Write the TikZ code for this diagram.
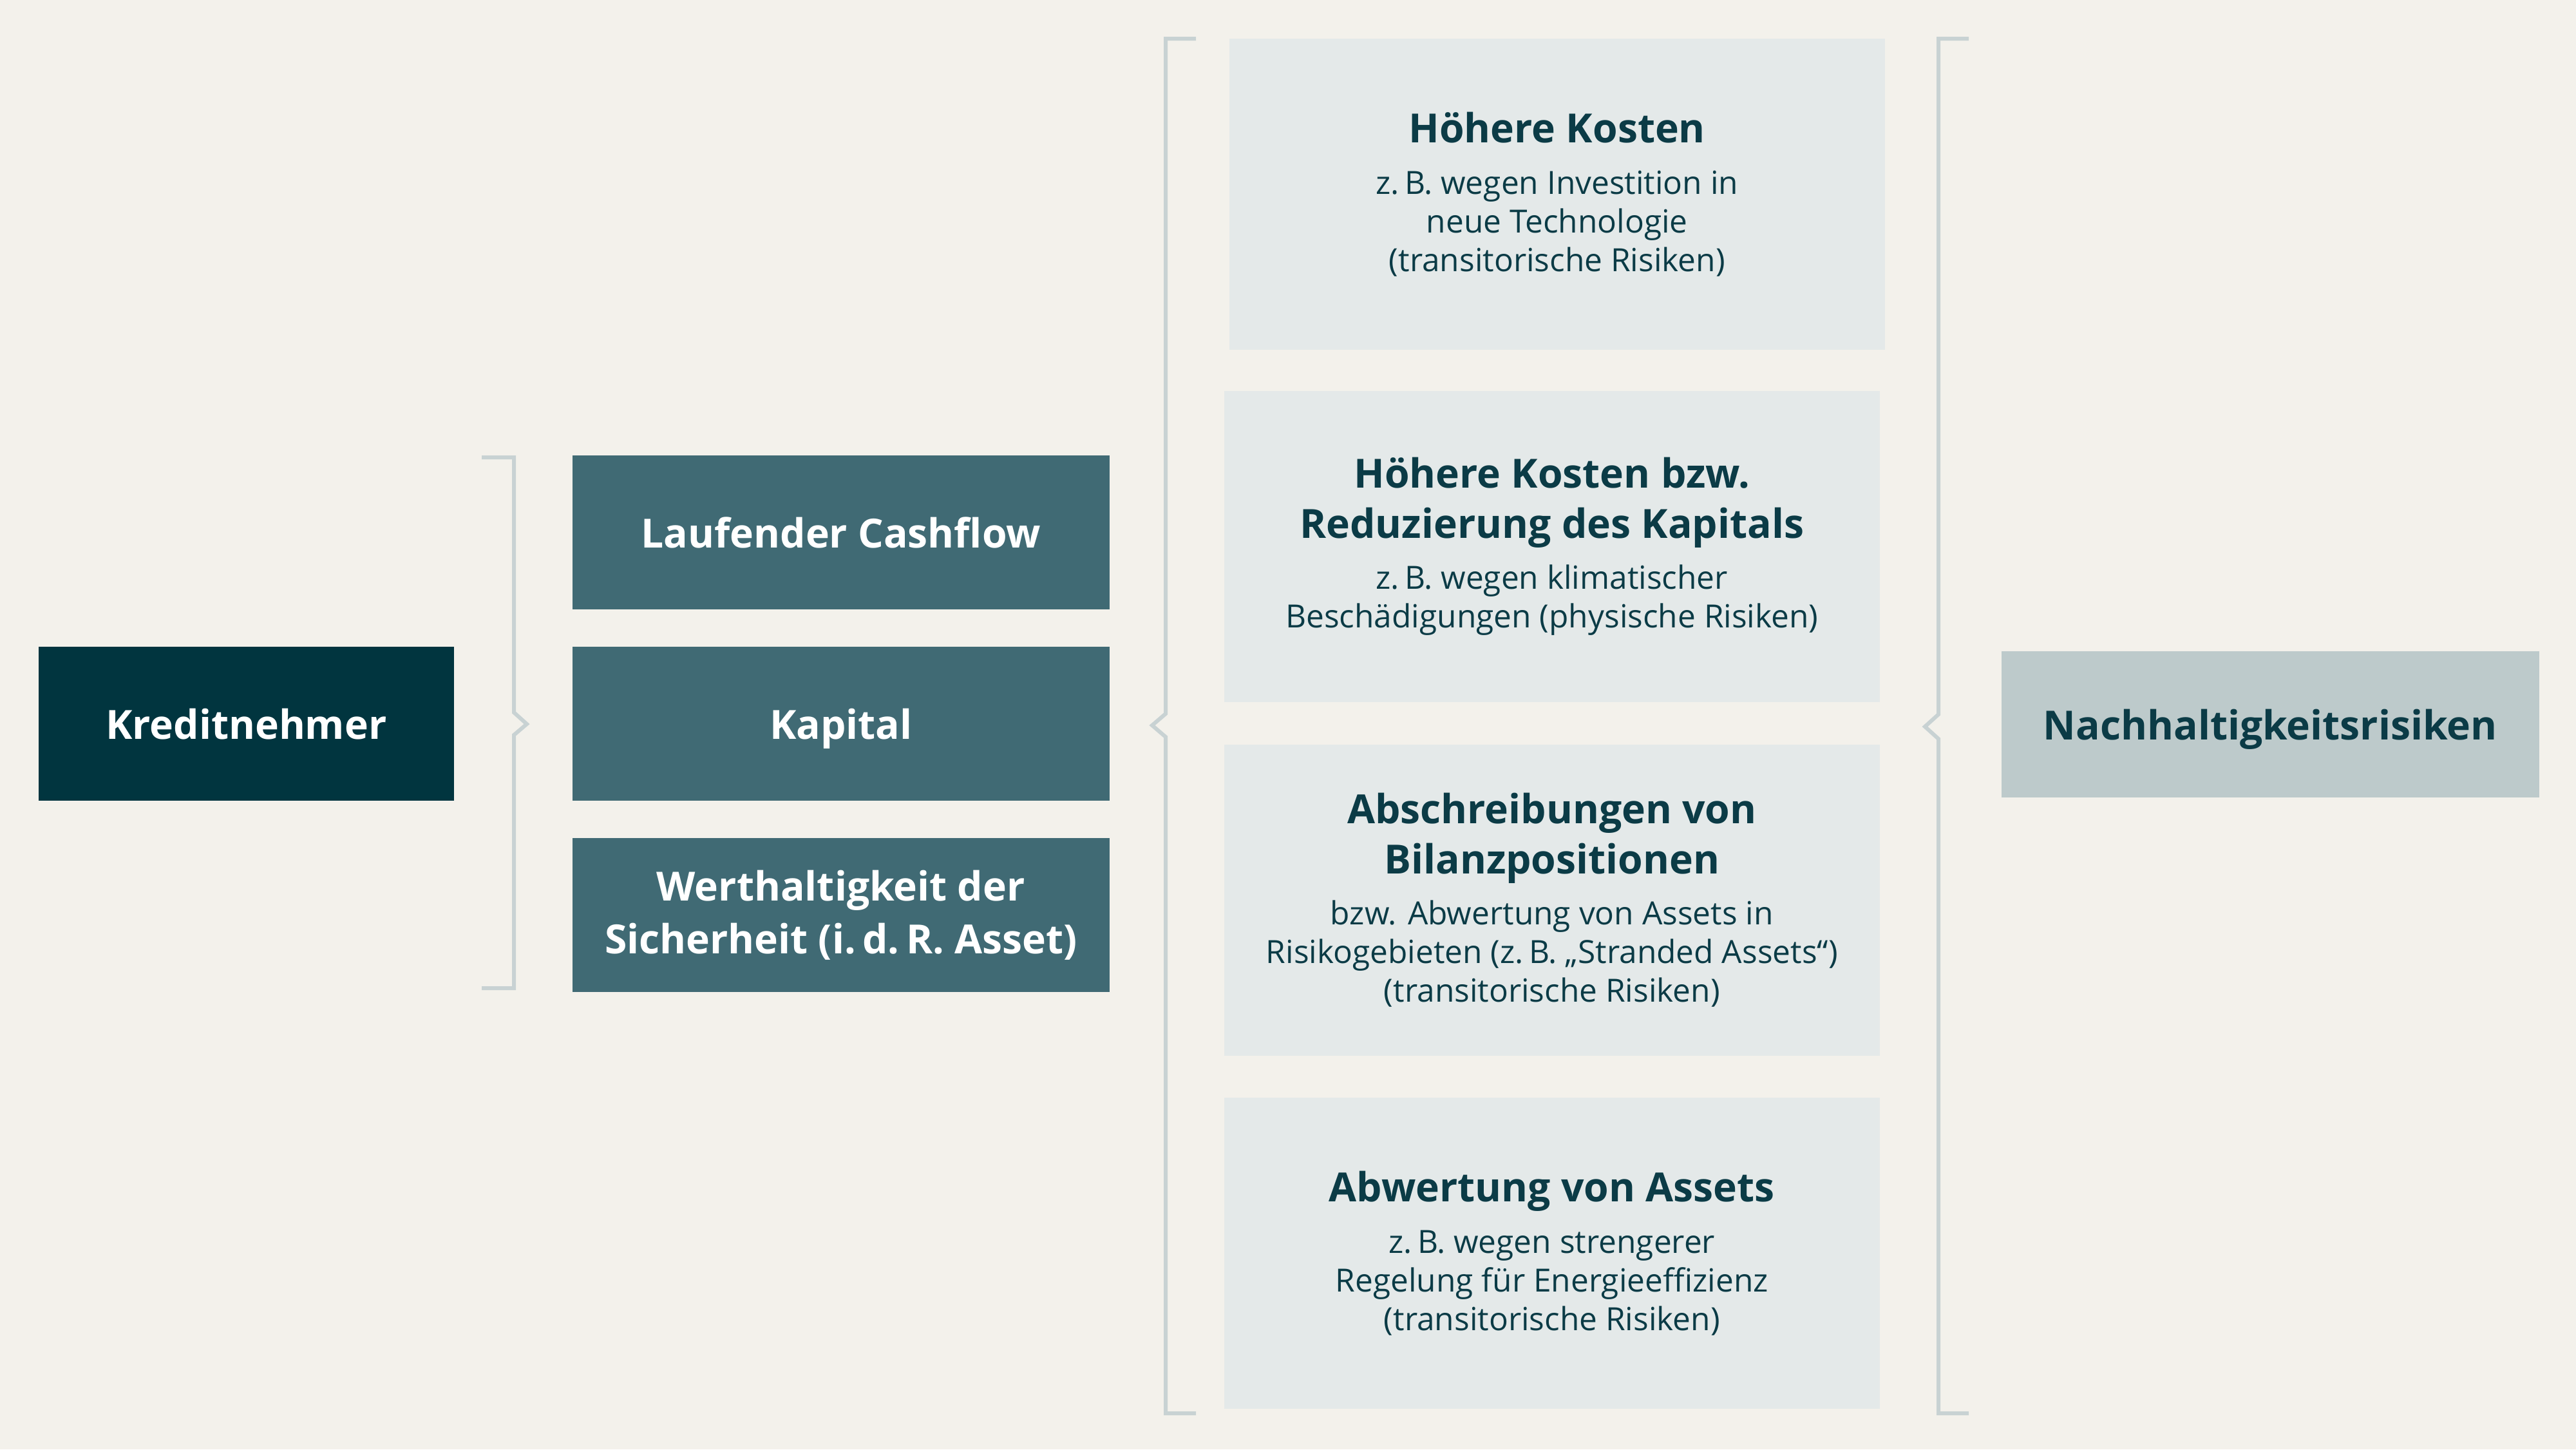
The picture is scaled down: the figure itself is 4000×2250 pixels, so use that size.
\documentclass[tikz,border=0pt]{standalone}
\usepackage{fontspec}
\setmainfont{Open Sans}
\definecolor{bgc}{HTML}{F3F1EB}
\definecolor{darkc}{HTML}{01353F}
\definecolor{tealc}{HTML}{406A74}
\definecolor{lightc}{HTML}{E4E9E9}
\definecolor{paleblue}{HTML}{BDCACB}
\definecolor{brackc}{HTML}{C8D2D3}
\definecolor{txtc}{HTML}{0B3B46}
\newcommand{\ttl}[1]{{\fontsize{15.6}{20}\selectfont\bfseries #1}}
\newcommand{\nolskip}{\lineskiplimit=-100pt\relax}
\begin{document}
\begin{tikzpicture}[x=0.25pt,y=-0.25pt,
  boxbase/.style={inner sep=0pt, anchor=north west, align=center},
  oneline/.style={text depth=0pt},
  darkbox/.style={boxbase, fill=darkc, text=white, font=\fontsize{15.6}{20.5}\selectfont\bfseries},
  tealbox/.style={boxbase, fill=tealc, text=white, font=\fontsize{15.6}{20.5}\selectfont\bfseries},
  lightbox/.style={boxbase, fill=lightc, text=txtc, font=\fontsize{12.4}{15}\selectfont\nolskip},
  nhbox/.style={boxbase, fill=paleblue, text=txtc, font=\fontsize{15.6}{20.5}\selectfont\bfseries},
  brack/.style={draw=brackc, line width=1.5pt, line join=miter}]
\fill[bgc] (0,0) rectangle (4000,2250);
\useasboundingbox (0,0) rectangle (4000,2250);

% left column
\node[darkbox, oneline, minimum width={645*0.25pt}, minimum height={239*0.25pt}] (kred) at (59,1003) {Kreditnehmer};

% middle column
\node[tealbox, oneline, minimum width={834*0.25pt}, minimum height={239*0.25pt}] (cash) at (888,706) {Laufender Cashflow};
\node[tealbox, oneline, minimum width={834*0.25pt}, minimum height={239*0.25pt}] (kap) at (888,1003) {Kapital};
\node[tealbox, minimum width={834*0.25pt}, minimum height={239*0.25pt}] (wert) at (888,1300) {Werthaltigkeit der\\Sicherheit (i.\,d.\,R. Asset)};

% right column
\node[lightbox, minimum width={1018*0.25pt}, minimum height={483*0.25pt}] (r1) at (1908,59)
  {\ttl{Höhere Kosten}\\[5pt]z.\,B. wegen Investition in\\neue Technologie\\(transitorische Risiken)};
\node[lightbox, minimum width={1018*0.25pt}, minimum height={483*0.25pt}] (r2) at (1900,606)
  {\ttl{Höhere Kosten bzw.}\\[4.3pt]\ttl{Reduzierung des Kapitals}\\[4.8pt]z.\,B. wegen klimatischer\\Beschädigungen (physische Risiken)};
\node[lightbox, minimum width={1018*0.25pt}, minimum height={483*0.25pt}] (r3) at (1900,1155)
  {\ttl{Abschreibungen von}\\[4.3pt]\ttl{Bilanzpositionen}\\[4.8pt]bzw. Abwertung von Assets in\\Risikogebieten (z.\,B. „Stranded Assets“)\\(transitorische Risiken)};
\node[lightbox, minimum width={1018*0.25pt}, minimum height={483*0.25pt}] (r4) at (1900,1703)
  {\ttl{Abwertung von Assets}\\[5pt]z.\,B. wegen strengerer\\Regelung für Energieeffizienz\\(transitorische Risiken)};

% far right
\node[nhbox, oneline, minimum width={835*0.25pt}, minimum height={227*0.25pt}] (nh) at (3107,1010) {Nachhaltigkeitsrisiken};

% brackets
\draw[brack] (748,710) -- (798,710) -- (798,1106) -- (818,1124) -- (798,1141) -- (798,1534) -- (748,1534);
\draw[brack] (1857,60) -- (1810,60) -- (1810,1108) -- (1789,1126) -- (1810,1144) -- (1810,2194) -- (1857,2194);
\draw[brack] (3057,60) -- (3010,60) -- (3010,1109) -- (2989,1128) -- (3010,1147) -- (3010,2194) -- (3057,2194);
\end{tikzpicture}
\end{document}
